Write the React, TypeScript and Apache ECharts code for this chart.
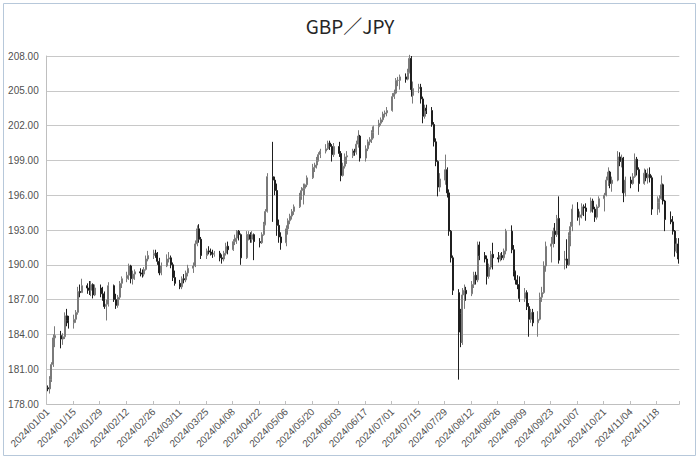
import React, { useEffect, useRef } from "react";
import * as echarts from "echarts";

// Daily OHLC rows per month: [open, high, low, close] (weekdays only)
const jan = [
  [179.4,179.6,179.1,179.3],[179.3,180.4,178.9,180.1],[180.1,181.6,179.9,181.4],[181.4,184.0,181.2,183.7],[183.7,184.7,182.9,183.9],
  [183.9,184.3,182.8,183.6],[183.6,184.1,183.1,183.8],[183.8,185.9,183.6,185.6],[185.6,186.2,184.7,185.2],[185.2,185.6,184.5,185.0],
  [185.0,185.7,184.5,185.3],[185.3,186.1,185.0,185.9],[185.9,188.1,185.7,187.7],[187.7,188.3,187.2,187.6],[187.6,188.8,187.6,188.2],
  [188.2,188.4,187.5,188.0],[188.0,188.6,187.4,187.8],[187.8,188.6,187.3,188.3],[188.3,188.4,187.1,187.4],[187.4,188.3,187.3,188.0],
  [188.0,188.3,187.2,187.5],[187.5,188.1,186.9,187.1],[187.1,187.7,186.2,186.4],
];
const feb = [
  [186.4,187.0,185.2,186.6],[186.6,188.5,186.4,188.2],
  [188.2,188.3,186.8,187.0],[187.0,187.5,186.2,186.5],[186.5,187.4,186.3,187.2],[187.2,188.6,187.0,188.4],[188.4,189.0,188.0,188.8],
  [188.8,189.4,188.5,189.1],[189.1,190.1,188.7,189.9],[189.9,190.0,188.4,188.8],[188.8,189.5,188.3,189.2],[189.2,189.6,188.7,189.4],
  [189.4,189.7,189.0,189.3],[189.3,189.6,188.9,189.2],[189.2,189.8,189.0,189.6],[189.6,190.8,189.5,190.5],[190.5,191.2,190.3,190.8],
  [190.8,191.3,190.5,191.0],[191.0,191.3,190.6,190.9],[190.9,191.1,190.0,190.3],[190.3,190.6,189.1,189.3],
];
const mar = [
  [189.3,190.2,189.1,189.9],
  [189.9,190.9,189.8,190.5],[190.5,191.1,190.2,190.6],[190.6,190.8,189.7,190.0],[190.0,190.2,188.6,188.9],[188.9,189.5,188.2,188.4],
  [188.4,188.7,187.9,188.1],[188.1,189.0,187.9,188.8],[188.8,189.2,188.4,188.7],[188.7,189.5,188.5,189.3],[189.3,190.0,189.0,189.7],
  [189.7,190.2,189.3,189.9],[189.9,192.1,189.8,191.8],[191.8,193.4,191.6,193.1],[193.1,193.5,191.9,192.2],[192.2,192.4,190.5,190.8],
  [190.8,191.4,190.5,191.2],[191.2,191.6,190.9,191.1],[191.1,191.4,190.8,191.0],[191.0,191.3,190.6,190.9],[190.9,191.2,190.7,191.0],
];
const apr = [
  [191.0,191.2,190.3,190.6],[190.6,190.9,190.1,190.5],[190.5,191.2,190.3,191.0],[191.0,191.9,190.8,191.6],[191.6,192.0,190.9,191.3],
  [191.3,192.2,191.2,192.0],[192.0,192.6,191.7,192.3],[192.3,193.0,191.8,192.9],[192.9,193.0,192.1,192.6],[192.6,192.7,190.0,190.6],
  [190.6,192.9,190.5,192.6],[192.6,192.9,192.1,192.6],[192.6,192.8,191.9,192.2],[192.2,192.9,191.9,192.6],[192.6,192.7,190.4,192.0],
  [192.0,192.3,191.5,191.9],[191.9,192.8,191.8,192.6],[192.6,193.7,192.5,193.5],[193.5,194.8,193.4,194.6],[194.6,197.9,194.5,197.6],
  [197.6,200.6,193.7,197.3],[197.3,197.6,196.0,196.4],
];
const may = [
  [196.4,197.0,192.5,193.4],[193.4,193.9,191.9,192.4],[192.4,192.8,191.3,191.9],
  [191.9,193.4,191.6,193.1],[193.1,194.0,192.6,193.8],[193.8,194.4,193.5,194.2],[194.2,194.8,193.9,194.6],[194.6,195.2,194.3,195.0],
  [195.0,196.2,194.9,195.9],[195.9,196.7,195.6,196.4],[196.4,197.0,195.2,196.6],[196.6,197.0,196.0,196.9],[196.9,197.7,196.7,197.5],
  [197.5,198.7,197.4,198.4],[198.4,198.8,198.0,198.6],[198.6,199.3,198.3,199.0],[199.0,199.7,198.9,199.5],[199.5,200.0,199.2,199.8],
  [199.8,200.4,199.6,200.0],[200.0,200.7,199.9,200.5],[200.5,200.7,199.9,200.2],[200.2,200.4,198.9,199.5],[199.5,200.5,199.3,200.2],
];
const jun = [
  [200.2,200.6,199.3,199.6],[199.6,199.8,197.2,197.7],[197.7,198.8,197.6,198.5],[198.5,199.6,198.3,199.3],[199.3,199.8,198.7,199.4],
  [199.4,200.0,199.2,199.8],[199.8,200.0,199.4,199.7],[199.7,200.7,199.5,200.4],[200.4,201.6,200.1,201.1],[201.1,201.2,198.9,199.2],
  [199.2,200.3,198.9,200.0],[200.0,200.8,199.8,200.6],[200.6,201.0,200.3,200.8],[200.8,201.6,200.5,201.4],[201.4,202.0,200.9,201.9],
  [201.9,202.5,201.2,202.2],[202.2,202.7,202.0,202.5],[202.5,203.2,202.3,203.0],[203.0,203.3,202.7,203.1],[203.1,203.6,202.8,203.3],
];
const jul = [
  [203.3,204.8,203.2,204.5],[204.5,205.1,204.3,204.8],[204.8,206.1,204.7,205.9],[205.9,206.2,205.4,205.9],[205.9,206.4,205.1,206.2],
  [206.2,206.5,205.7,206.0],[206.0,206.9,205.9,206.6],[206.6,208.1,206.5,207.8],[207.8,208.0,204.5,205.1],[204.6,205.8,203.9,205.2],
  [205.2,205.6,204.8,205.3],[205.3,205.6,203.9,204.3],[204.3,204.5,202.2,202.8],[202.8,203.8,202.6,203.5],[203.5,203.8,203.0,203.3],
  [203.3,203.6,201.9,202.1],[202.1,202.3,200.2,200.6],[200.6,200.9,198.5,198.9],[198.9,199.0,195.9,196.7],[196.7,197.9,196.3,197.4],
  [197.3,199.5,196.9,198.2],[198.2,198.4,195.8,196.2],[196.2,196.5,192.5,192.9],
];
const aug = [
  [192.9,193.0,190.2,190.6],[190.6,190.8,187.4,187.8],
  [187.6,187.9,180.1,184.2],[185.8,186.2,182.9,183.3],[183.3,188.0,183.1,187.4],[187.4,188.3,186.2,187.8],[187.8,188.1,186.9,187.5],
  [187.5,188.6,187.3,188.3],[188.3,189.4,188.0,189.1],[189.1,189.4,188.3,188.7],[188.7,192.0,188.5,191.7],[191.7,192.0,190.4,190.8],
  [190.8,191.1,190.2,190.5],[190.5,190.8,188.3,189.0],[189.0,190.1,188.8,189.8],[189.8,191.2,189.6,190.9],[190.9,191.9,189.6,190.6],
  [190.6,191.1,190.2,190.5],[190.5,191.0,190.3,190.8],[190.8,191.1,190.4,190.6],[190.6,191.4,190.4,191.2],[191.2,193.1,190.9,192.9],
];
const sep = [
  [192.9,193.4,191.0,191.3],[191.3,191.7,189.0,189.4],[189.4,189.5,188.3,188.7],[188.7,189.1,187.9,188.3],[188.3,189.0,186.8,187.1],
  [187.1,188.0,186.8,187.6],[187.6,187.8,186.1,186.4],[186.4,186.7,183.8,185.3],[185.3,186.2,185.0,185.9],[185.9,186.2,184.7,185.0],
  [185.0,186.0,183.8,185.3],[185.3,187.6,185.2,187.2],[187.2,188.1,186.8,187.6],[187.6,190.3,187.5,189.9],[189.9,192.0,189.4,191.6],
  [191.6,192.4,190.2,191.8],[191.8,193.2,191.5,192.9],[192.9,193.6,191.8,192.6],[192.6,194.3,192.4,194.0],[194.0,195.9,190.1,190.4],
  [190.4,191.2,189.6,190.5],
];
const oct = [
  [190.5,192.2,189.7,190.0],[190.0,192.8,189.9,192.5],[192.5,193.7,191.6,193.3],[193.3,195.2,192.9,194.8],
  [194.8,195.4,193.8,194.1],[194.1,194.6,193.4,194.3],[194.3,195.3,194.0,195.0],[195.0,195.2,194.2,194.9],[194.9,195.3,193.8,194.6],
  [194.6,195.8,194.5,195.5],[195.5,195.7,194.5,194.8],[194.8,195.0,193.7,194.1],[194.1,195.2,193.9,195.0],[195.0,195.9,194.9,195.7],
  [195.7,196.2,194.6,196.0],[196.0,197.6,195.9,197.3],[197.3,198.4,196.8,198.0],[198.0,198.1,196.6,197.0],[197.0,197.6,196.3,197.3],
  [197.3,199.8,197.2,199.3],[199.3,199.7,198.5,198.9],[198.9,199.5,198.4,199.2],[199.2,199.3,195.4,196.2],
];
const nov = [
  [196.2,197.6,195.9,197.3],
  [197.3,197.6,196.6,197.0],[197.0,197.9,196.9,197.6],[197.6,199.6,197.5,199.1],[199.1,199.3,197.7,198.2],[198.2,198.4,196.3,197.0],
  [197.0,198.3,196.9,197.9],[197.9,198.2,197.2,197.5],[197.5,198.3,197.0,197.8],[197.8,198.4,197.1,197.5],[197.5,197.7,194.3,194.8],
  [194.8,195.9,194.3,195.4],[195.4,196.0,194.5,195.7],[195.7,197.7,195.6,196.9],[196.9,197.0,195.2,195.5],[195.5,195.6,192.9,193.9],
  [193.9,194.6,193.5,193.7],[193.7,194.2,192.6,192.9],[192.9,193.0,190.7,191.2],[191.2,192.3,191.0,191.8],[191.8,192.3,190.1,190.5],
];

const firstDay = [2024, 0, 1];
const lastDay = [2024, 10, 29];
const yTicks = { min: 178, max: 208, step: 3 };
const labelEvery = 14;

function buildData() {
  const rows = [...jan, ...feb, ...mar, ...apr, ...may, ...jun, ...jul, ...aug, ...sep, ...oct, ...nov];
  const cats: string[] = [];
  const vals: any[] = [];
  const start = Date.UTC(firstDay[0], firstDay[1], firstDay[2]);
  const end = Date.UTC(lastDay[0], lastDay[1], lastDay[2]);
  let k = 0;
  for (let t = start; t <= end; t += 86400000) {
    const d = new Date(t);
    const s = `${d.getUTCFullYear()}/${String(d.getUTCMonth() + 1).padStart(2, "0")}/${String(d.getUTCDate()).padStart(2, "0")}`;
    cats.push(s);
    const wd = d.getUTCDay();
    if (wd === 0 || wd === 6 || k >= rows.length) {
      vals.push("-");
    } else {
      const [o, h, l, c] = rows[k++];
      vals.push([o, c, l, h]);
    }
  }
  return { cats, vals };
}

export default function App() {
  const ref = useRef<HTMLDivElement>(null);
  useEffect(() => {
    if (!ref.current) return;
    const chart = echarts.init(ref.current, null, { renderer: "svg" });
    const { cats, vals } = buildData();
    const showIdx = (i: number) => i % labelEvery === 0;
    chart.setOption({
      animation: false,
      backgroundColor: "#ffffff",
      title: {
        text: "GBP／JPY",
        left: "center",
        top: 11,
        textStyle: { fontFamily: "Noto Sans CJK JP", fontSize: 19, fontWeight: "normal", color: "#262626" },
      },
      graphic: [
        {
          type: "rect",
          silent: true,
          shape: { x: 3.5, y: 3.5, width: 692, height: 452 },
          style: { fill: "none", stroke: "#b7c8da", lineWidth: 1 },
        },
      ],
      grid: { left: 46.7, right: 20.7, top: 56, bottom: 56, containLabel: false },
      xAxis: {
        type: "category",
        data: cats,
        boundaryGap: true,
        axisLine: { show: true, lineStyle: { color: "#bfbfbf" } },
        axisTick: { show: true, interval: showIdx, inside: true, length: 3, lineStyle: { color: "#bfbfbf" } },
        axisLabel: {
          interval: showIdx,
          rotate: 45,
          fontSize: 10,
          color: "#505050",
          fontFamily: "Liberation Sans",
          margin: 6,
        },
        splitLine: { show: false },
      },
      yAxis: {
        type: "value",
        min: yTicks.min,
        max: yTicks.max,
        interval: yTicks.step,
        axisLabel: {
          formatter: (v: number) => v.toFixed(2),
          color: "#505050",
          fontSize: 10,
          fontFamily: "Liberation Sans",
          margin: 8,
        },
        axisLine: { show: true, lineStyle: { color: "#bfbfbf" } },
        axisTick: { show: false },
        splitLine: { show: true, lineStyle: { color: "#c8c8c8" } },
      },
      series: [
        {
          type: "candlestick",
          data: vals,
          barWidth: 1.5,
          itemStyle: {
            color: "#ffffff",
            color0: "#1f1f1f",
            borderColor: "#7a7a7a",
            borderColor0: "#1f1f1f",
            borderWidth: 1,
          },
        },
      ],
    });
    return () => chart.dispose();
  }, []);
  return (
    <div
      ref={ref}
      style={{ position: "absolute", left: 0, top: 0, width: 700, height: 460 }}
    />
  );
}
